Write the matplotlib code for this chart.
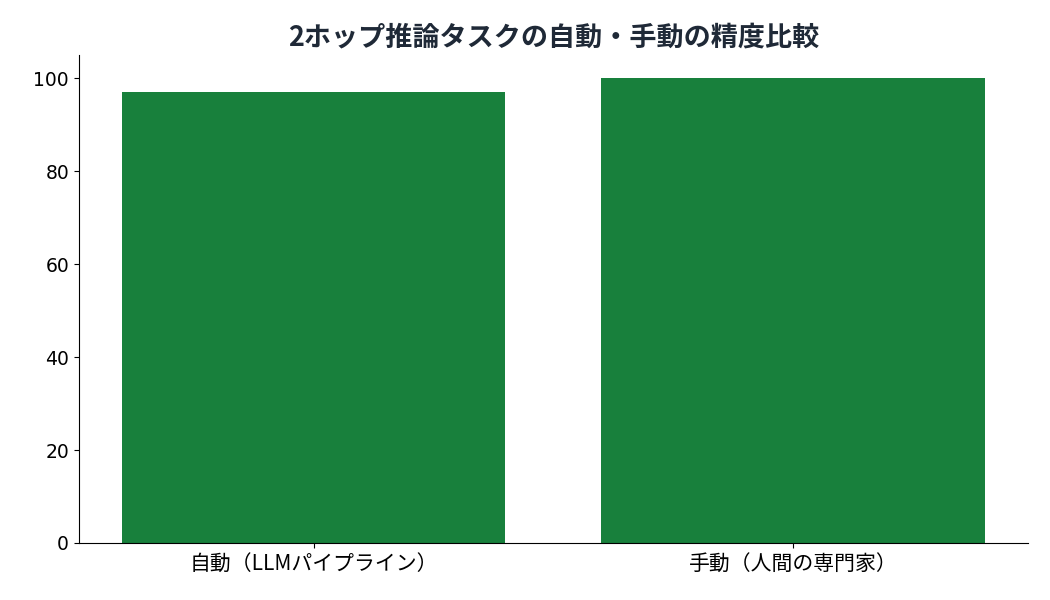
import matplotlib
matplotlib.use("Agg")
import matplotlib.pyplot as plt

plt.rcParams['font.family'] = ['Noto Sans CJK JP', 'DejaVu Sans']

categories = ["自動（LLMパイプライン）", "手動（人間の専門家）"]
accuracy = [97, 100]
title = "2ホップ推論タスクの自動・手動の精度比較"

fig = plt.figure(figsize=(10.5, 6), dpi=100)
ax = fig.add_axes([0.075, 0.095, 0.904, 0.813])

ax.bar(categories, accuracy, width=0.8, color="#18803c")
ax.set_title(title, fontsize=19.5, fontweight="bold", color="#1f2937", pad=7)

ax.spines["top"].set_visible(False)
ax.spines["right"].set_visible(False)
ax.tick_params(axis="x", labelsize=15)
ax.set_yticks([0, 20, 40, 60, 80, 100])
for lbl in ax.get_yticklabels():
    lbl.set_fontfamily("DejaVu Sans")
    lbl.set_fontsize(13.5)

fig.savefig("out.png", dpi=100)
